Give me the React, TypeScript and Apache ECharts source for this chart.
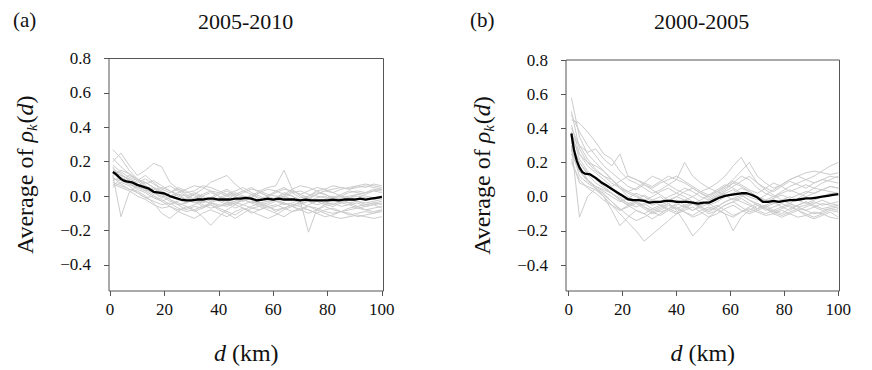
import React, { useEffect, useRef } from "react";
import * as echarts from "echarts";

const FONT = "Liberation Serif";

// distance (km) sampled for the individual (grey) curves
const D = [1, 4, 7, 10, 13, 16, 19, 22, 25, 28, 31, 34, 37, 40, 43, 46, 49, 52, 55, 58, 61, 64, 67, 70, 73, 76, 79, 82, 85, 88, 91, 94, 97, 100];
// distance (km) sampled for the average (black) curve
const MEAN_D = [1, 2, 3, 4, 5, 6, 8, 10, 12, 14, 16, 18, 20, 22, 24, 26, 28, 30, 32, 34, 36, 38, 40, 42, 44, 46, 48, 50, 52, 54, 56, 58, 60, 62, 64, 66, 68, 70, 72, 74, 76, 78, 80, 82, 84, 86, 88, 90, 92, 94, 96, 98, 100];

const X_TICKS = [0, 20, 40, 60, 80, 100];
const Y_TICKS = [-0.4, -0.2, 0, 0.2, 0.4, 0.6, 0.8];

// Panel (a) 2005-2010
const A1 = [0.27, 0.22, 0.15, 0.10, 0.08, 0.05, 0.02, 0.00, -0.02, -0.03, -0.01, 0.01, 0.03, 0.02, 0.00, -0.02, -0.03, -0.01, 0.02, 0.04, 0.03, 0.01, 0.00, -0.02, -0.01, 0.01, 0.03, 0.04, 0.05, 0.04, 0.05, 0.06, 0.05, 0.04];
const A2 = [0.12, -0.12, 0.02, 0.06, 0.08, 0.05, 0.03, -0.02, -0.05, -0.08, -0.06, -0.07, -0.04, -0.05, -0.06, -0.04, -0.05, -0.07, -0.08, -0.06, -0.05, -0.07, -0.09, -0.08, -0.06, -0.07, -0.09, -0.10, -0.09, -0.08, -0.07, -0.08, -0.09, -0.08];
const A3 = [0.20, 0.25, 0.18, 0.12, 0.15, 0.19, 0.17, 0.08, 0.04, 0.02, 0.03, 0.06, 0.05, 0.03, 0.01, 0.00, 0.02, 0.04, 0.03, 0.01, 0.00, -0.01, 0.02, 0.03, 0.01, 0.00, -0.01, -0.02, -0.01, 0.00, 0.01, 0.00, -0.01, 0.00];
const A4 = [0.08, 0.06, 0.04, 0.03, 0.00, -0.04, -0.10, -0.13, -0.09, -0.06, -0.08, -0.12, -0.17, -0.12, -0.08, -0.05, -0.07, -0.10, -0.08, -0.06, -0.09, -0.07, -0.05, -0.06, -0.08, -0.10, -0.08, -0.07, -0.09, -0.11, -0.10, -0.09, -0.10, -0.08];
const A5 = [0.15, 0.12, 0.10, 0.07, 0.04, 0.02, 0.00, -0.03, -0.05, -0.04, -0.02, -0.05, -0.07, -0.06, -0.04, -0.03, 0.00, -0.02, -0.04, -0.03, -0.01, 0.02, 0.00, -0.03, -0.21, -0.08, -0.05, -0.04, -0.06, -0.05, -0.04, -0.06, -0.05, -0.04];
const A6 = [0.10, 0.09, 0.12, 0.10, 0.06, 0.04, 0.05, 0.03, 0.00, -0.02, 0.01, 0.04, 0.08, 0.10, 0.12, 0.07, 0.03, 0.01, -0.02, 0.00, 0.03, 0.05, 0.02, -0.01, 0.00, 0.02, 0.01, -0.01, 0.00, 0.02, 0.03, 0.02, 0.04, 0.03];
const A7 = [0.05, 0.08, 0.06, 0.02, -0.01, -0.03, -0.05, -0.04, -0.07, -0.09, -0.08, -0.06, -0.05, -0.07, -0.09, -0.11, -0.08, -0.06, -0.04, -0.06, -0.08, -0.07, -0.05, -0.04, -0.06, -0.08, -0.10, -0.12, -0.13, -0.12, -0.11, -0.12, -0.13, -0.12];
const A8 = [0.18, 0.14, 0.11, 0.09, 0.12, 0.08, 0.04, 0.02, 0.05, 0.03, 0.00, -0.02, -0.01, 0.02, 0.04, 0.01, -0.01, 0.00, 0.03, 0.05, 0.06, 0.15, 0.04, 0.00, -0.02, 0.01, 0.03, 0.02, 0.00, -0.01, 0.01, 0.02, 0.03, 0.02];
const A9 = [0.13, 0.10, 0.07, 0.05, 0.03, 0.00, -0.03, -0.06, -0.08, -0.07, -0.05, -0.03, -0.04, -0.06, -0.05, -0.03, -0.02, -0.04, -0.06, -0.05, -0.03, -0.04, -0.06, -0.05, -0.03, -0.02, -0.04, -0.05, -0.03, -0.04, -0.06, -0.05, -0.04, -0.03];
const A10 = [0.22, 0.17, 0.13, 0.10, 0.07, 0.09, 0.06, 0.03, 0.01, 0.00, 0.02, 0.00, -0.03, -0.01, 0.01, 0.03, 0.05, 0.02, 0.00, -0.02, -0.01, 0.01, 0.04, 0.06, 0.05, 0.03, 0.04, 0.06, 0.05, 0.04, 0.06, 0.07, 0.06, 0.05];
const A11 = [0.09, 0.11, 0.08, 0.05, 0.06, 0.03, 0.01, -0.02, -0.04, -0.06, -0.09, -0.07, -0.05, -0.08, -0.10, -0.13, -0.10, -0.07, -0.06, -0.08, -0.10, -0.12, -0.09, -0.07, -0.08, -0.10, -0.12, -0.11, -0.09, -0.10, -0.12, -0.11, -0.10, -0.09];
const A12 = [0.16, 0.13, 0.09, 0.06, 0.03, 0.04, 0.02, 0.00, 0.02, 0.04, 0.06, 0.05, 0.03, 0.00, -0.03, -0.05, -0.02, 0.01, -0.01, -0.03, -0.02, 0.00, -0.02, -0.04, -0.03, -0.01, 0.00, -0.02, -0.03, -0.01, 0.00, -0.01, -0.02, -0.01];
const A13 = [0.07, 0.05, 0.03, 0.00, -0.02, -0.05, -0.07, -0.06, -0.09, -0.11, -0.13, -0.10, -0.08, -0.10, -0.12, -0.09, -0.07, -0.09, -0.11, -0.13, -0.11, -0.08, -0.06, -0.08, -0.10, -0.08, -0.06, -0.08, -0.09, -0.07, -0.06, -0.08, -0.07, -0.06];
const A14 = [0.12, 0.15, 0.13, 0.09, 0.05, 0.02, -0.01, 0.02, 0.04, 0.01, -0.02, -0.04, -0.02, 0.01, 0.03, 0.00, -0.03, -0.01, 0.02, 0.00, -0.02, -0.04, -0.06, -0.03, 0.00, 0.03, 0.01, -0.01, 0.01, 0.03, 0.02, 0.01, 0.03, 0.04];
const A15 = [0.11, 0.07, 0.04, 0.02, -0.01, 0.00, -0.02, -0.05, -0.03, -0.01, 0.01, -0.01, -0.03, -0.02, 0.00, 0.02, 0.00, -0.02, -0.05, -0.04, -0.02, 0.00, 0.03, 0.01, -0.01, -0.03, -0.02, 0.00, -0.02, -0.04, -0.03, -0.05, -0.04, -0.05];
const A16 = [0.14, 0.12, 0.10, 0.08, 0.10, 0.07, 0.04, 0.06, 0.03, 0.00, -0.03, -0.06, -0.04, -0.02, -0.04, -0.07, -0.05, -0.03, -0.05, -0.07, -0.06, -0.04, -0.06, -0.08, -0.05, -0.03, -0.05, -0.06, -0.04, -0.05, -0.07, -0.06, -0.05, -0.07];
const A17 = [0.17, 0.09, 0.07, 0.04, 0.02, -0.01, -0.03, -0.01, 0.01, -0.02, -0.04, -0.03, -0.01, -0.03, -0.05, -0.04, -0.02, -0.04, -0.03, -0.01, -0.03, -0.05, -0.04, -0.02, -0.03, -0.05, -0.04, -0.03, -0.04, -0.02, -0.03, -0.04, -0.03, -0.02];
const A18 = [0.06, 0.10, 0.09, 0.07, 0.04, 0.01, 0.03, 0.00, -0.02, -0.04, -0.02, 0.00, 0.02, 0.00, -0.02, 0.01, 0.03, 0.05, 0.02, 0.00, 0.02, 0.04, 0.03, 0.01, 0.03, 0.05, 0.04, 0.02, 0.04, 0.05, 0.06, 0.05, 0.07, 0.06];
const MEAN_A = [0.14, 0.13, 0.115, 0.10, 0.09, 0.085, 0.08, 0.065, 0.055, 0.045, 0.025, 0.02, 0.015, 0.00, -0.01, -0.02, -0.025, -0.025, -0.02, -0.02, -0.015, -0.015, -0.02, -0.02, -0.02, -0.015, -0.015, -0.01, -0.015, -0.025, -0.02, -0.015, -0.02, -0.015, -0.02, -0.02, -0.02, -0.025, -0.02, -0.025, -0.025, -0.025, -0.025, -0.02, -0.025, -0.02, -0.02, -0.02, -0.015, -0.02, -0.015, -0.01, -0.005];

// Panel (b) 2000-2005
const B1 = [0.58, 0.35, 0.25, 0.20, 0.15, 0.10, 0.05, 0.02, 0.00, -0.02, -0.05, -0.03, 0.00, 0.02, 0.05, 0.03, 0.00, -0.02, 0.01, 0.04, 0.08, 0.12, 0.10, 0.05, 0.02, 0.00, 0.03, 0.06, 0.08, 0.10, 0.12, 0.15, 0.18, 0.20];
const B2 = [0.30, -0.12, 0.00, 0.05, 0.02, -0.03, -0.08, -0.06, -0.04, -0.07, -0.10, -0.08, -0.05, -0.07, -0.09, -0.11, -0.08, -0.06, -0.08, -0.10, -0.12, -0.09, -0.07, -0.09, -0.11, -0.10, -0.08, -0.10, -0.12, -0.11, -0.09, -0.10, -0.12, -0.13];
const B3 = [0.45, 0.43, 0.38, 0.32, 0.25, 0.22, 0.15, 0.10, 0.08, 0.05, 0.02, 0.04, 0.07, 0.10, 0.08, 0.05, 0.02, 0.00, 0.03, 0.06, 0.10, 0.15, 0.20, 0.12, 0.08, 0.05, 0.07, 0.10, 0.12, 0.10, 0.08, 0.10, 0.12, 0.11];
const B4 = [0.25, 0.15, 0.10, 0.05, 0.00, -0.05, -0.10, -0.15, -0.20, -0.26, -0.22, -0.18, -0.14, -0.10, -0.08, -0.06, -0.09, -0.12, -0.10, -0.07, -0.05, -0.08, -0.10, -0.08, -0.06, -0.09, -0.11, -0.09, -0.07, -0.08, -0.10, -0.09, -0.07, -0.08];
const B5 = [0.35, 0.25, 0.20, 0.18, 0.15, 0.10, 0.05, 0.00, -0.03, -0.05, -0.02, 0.00, -0.04, -0.08, -0.15, -0.23, -0.18, -0.12, -0.08, -0.05, -0.03, -0.06, -0.09, -0.07, -0.05, -0.03, -0.06, -0.08, -0.05, -0.03, -0.05, -0.07, -0.06, -0.05];
const B6 = [0.40, 0.30, 0.26, 0.28, 0.22, 0.18, 0.25, 0.12, 0.10, 0.08, 0.06, 0.09, 0.12, 0.10, 0.20, 0.12, 0.08, 0.05, 0.03, 0.06, 0.09, 0.07, 0.04, 0.02, 0.05, 0.08, 0.06, 0.03, 0.05, 0.07, 0.05, 0.04, 0.06, 0.05];
const B7 = [0.20, 0.10, 0.05, 0.02, -0.02, -0.05, -0.08, -0.05, -0.03, -0.06, -0.09, -0.07, -0.04, -0.02, -0.05, -0.08, -0.06, -0.04, -0.07, -0.10, -0.20, -0.12, -0.08, -0.05, -0.07, -0.09, -0.07, -0.05, -0.08, -0.10, -0.12, -0.10, -0.08, -0.09];
const B8 = [0.50, 0.28, 0.20, 0.15, 0.12, 0.08, 0.05, 0.03, 0.05, 0.08, 0.12, 0.10, 0.07, 0.04, 0.02, 0.00, 0.03, 0.05, 0.08, 0.12, 0.18, 0.23, 0.15, 0.08, 0.05, 0.03, 0.06, 0.09, 0.07, 0.05, 0.08, 0.10, 0.09, 0.08];
const B9 = [0.30, 0.20, 0.14, 0.10, 0.06, 0.02, -0.02, -0.05, -0.08, -0.10, -0.07, -0.05, -0.08, -0.10, -0.07, -0.04, -0.06, -0.09, -0.06, -0.03, -0.01, -0.03, -0.05, -0.08, -0.10, -0.08, -0.06, -0.04, -0.06, -0.05, -0.03, -0.05, -0.04, -0.03];
const B10 = [0.38, 0.22, 0.15, 0.10, 0.08, 0.05, 0.00, -0.04, -0.02, 0.01, -0.02, -0.05, -0.03, 0.00, -0.02, -0.04, -0.02, 0.01, 0.03, 0.01, -0.02, 0.00, 0.03, 0.00, -0.03, -0.01, 0.01, -0.01, 0.01, 0.03, 0.02, 0.04, 0.06, 0.05];
const B11 = [0.28, 0.12, 0.08, 0.05, 0.01, -0.03, -0.07, -0.11, -0.14, -0.12, -0.09, -0.11, -0.08, -0.06, -0.09, -0.12, -0.10, -0.07, -0.05, -0.08, -0.11, -0.09, -0.06, -0.04, -0.07, -0.10, -0.12, -0.10, -0.08, -0.11, -0.13, -0.11, -0.09, -0.12];
const B12 = [0.42, 0.25, 0.18, 0.14, 0.10, 0.06, 0.09, 0.12, 0.10, 0.07, 0.05, 0.08, 0.10, 0.12, 0.09, 0.06, 0.03, 0.01, 0.04, 0.07, 0.05, 0.02, 0.00, -0.02, 0.01, 0.04, 0.07, 0.10, 0.12, 0.14, 0.15, 0.14, 0.13, 0.14];
const B13 = [0.33, 0.15, 0.09, 0.06, 0.03, 0.00, -0.03, -0.01, 0.02, 0.00, -0.03, -0.05, -0.07, -0.05, -0.02, 0.00, -0.03, -0.05, -0.03, 0.00, 0.02, 0.05, 0.03, 0.00, -0.02, -0.04, -0.02, 0.00, -0.02, -0.04, -0.02, 0.00, 0.02, 0.01];
const B14 = [0.22, 0.08, 0.06, 0.04, 0.00, -0.08, -0.17, -0.12, -0.08, -0.10, -0.13, -0.10, -0.07, -0.09, -0.06, -0.04, -0.07, -0.10, -0.08, -0.05, -0.03, -0.01, -0.04, -0.07, -0.05, -0.08, -0.10, -0.07, -0.05, -0.03, -0.06, -0.08, -0.07, -0.06];
const B15 = [0.36, 0.30, 0.22, 0.16, 0.12, 0.10, 0.06, 0.03, 0.01, -0.02, 0.00, 0.03, 0.05, 0.02, 0.00, -0.03, -0.05, -0.03, 0.00, 0.03, 0.06, 0.09, 0.12, 0.08, 0.04, 0.01, -0.02, -0.04, -0.01, 0.02, 0.05, 0.08, 0.10, 0.12];
const B16 = [0.27, 0.18, 0.10, 0.06, 0.04, 0.02, -0.01, -0.04, -0.06, -0.04, -0.07, -0.09, -0.07, -0.04, -0.06, -0.08, -0.05, -0.02, 0.00, 0.02, 0.04, 0.01, -0.02, -0.05, -0.08, -0.06, -0.04, -0.06, -0.08, -0.06, -0.04, -0.02, -0.04, -0.05];
const B17 = [0.48, 0.38, 0.30, 0.24, 0.18, 0.14, 0.10, 0.06, 0.04, 0.07, 0.04, 0.01, -0.02, 0.00, 0.03, 0.05, 0.02, -0.01, 0.02, 0.05, 0.08, 0.06, 0.03, 0.00, -0.02, 0.00, 0.02, 0.04, 0.02, 0.00, 0.02, 0.04, 0.03, 0.02];
const B18 = [0.32, 0.20, 0.13, 0.08, 0.05, 0.02, -0.02, -0.05, -0.03, -0.06, -0.08, -0.06, -0.04, -0.07, -0.05, -0.03, -0.06, -0.08, -0.06, -0.03, -0.01, 0.01, -0.02, -0.04, -0.06, -0.04, -0.02, -0.04, -0.06, -0.08, -0.06, -0.04, -0.05, -0.07];
const MEAN_B = [0.37, 0.27, 0.21, 0.17, 0.145, 0.135, 0.13, 0.11, 0.085, 0.065, 0.045, 0.025, 0.005, -0.015, -0.02, -0.02, -0.025, -0.035, -0.03, -0.03, -0.025, -0.025, -0.03, -0.03, -0.03, -0.035, -0.04, -0.035, -0.035, -0.02, -0.005, 0.005, 0.01, 0.015, 0.02, 0.02, 0.01, -0.005, -0.03, -0.03, -0.025, -0.03, -0.025, -0.02, -0.02, -0.015, -0.01, -0.01, -0.005, 0.0, 0.005, 0.01, 0.015];

const GREY_A = [A1, A2, A3, A4, A5, A6, A7, A8, A9, A10, A11, A12, A13, A14, A15, A16, A17, A18];
const GREY_B = [B1, B2, B3, B4, B5, B6, B7, B8, B9, B10, B11, B12, B13, B14, B15, B16, B17, B18];

const PANEL_LABELS = ["(a)", "(b)"];
const PANEL_TITLES = ["2005-2010", "2000-2005"];
const X_NAME = "{i|d}{n| (km)}";
const Y_NAME = "{n|Average of }{i|\u03c1}{s|k}{n|(}{i|d}{n|)}";

const pairs = (xs: number[], ys: number[]) => {
  const n = Math.min(xs.length, ys.length);
  const out: any[] = [];
  for (let i = 0; i < n; i++) out.push([xs[i], ys[i]]);
  return out;
};

// all grey curves of a panel in one line series, separated by empty items
const bundle = (set: number[][]) => {
  const out: any[] = [];
  set.forEach((ys, k) => {
    if (k > 0) out.push("-");
    pairs(D, ys).forEach((p) => out.push(p));
  });
  return out;
};

const fmtY = (v: number) => {
  const r = Math.round(v * 10) / 10;
  const s = r < 0 ? "\u2212" + Math.abs(r).toFixed(1) : r.toFixed(1);
  return "{t|" + s + "}";
};
const fmtX = (v: number) => "{t|" + String(Math.round(v)) + "}";

export default function App() {
  const ref = useRef<HTMLDivElement>(null);
  useEffect(() => {
    if (!ref.current) return;
    const chart = echarts.init(ref.current, undefined, { renderer: "svg" });

    const grids = [
      { left: 109, top: 58.5, width: 274.5, height: 235, xmin: -0.4, xmax: 100.6, cx: 246, lx: 13 },
      { left: 566, top: 60, width: 273.5, height: 234, xmin: -1.0, xmax: 100.45, cx: 702, lx: 470 },
    ];

    const nameRich = {
      n: { fontSize: 24, fontFamily: FONT, color: "#111" },
      i: { fontStyle: "italic", fontSize: 24, fontFamily: FONT, color: "#111" },
      s: { fontStyle: "italic", fontSize: 15, fontFamily: FONT, color: "#111", padding: [14, 1, 0, 0] },
    };
    const tickRich = { t: { fontSize: 17, fontFamily: FONT, color: "#111" } };

    const mkX = (gi: number) => ({
      type: "value",
      gridIndex: gi,
      min: grids[gi].xmin,
      max: grids[gi].xmax,
      name: X_NAME,
      nameLocation: "middle",
      nameGap: 50,
      nameTextStyle: { fontFamily: FONT, fontSize: 24, color: "#111", rich: nameRich },
      axisLine: { show: false, onZero: false },
      axisTick: { show: true, length: 5, lineStyle: { color: "#555", width: 1 }, customValues: X_TICKS },
      axisLabel: { customValues: X_TICKS, margin: 10, color: "#111", fontSize: 17, fontFamily: FONT, formatter: fmtX, rich: tickRich },
      splitLine: { show: false },
    });
    const mkY = (gi: number) => ({
      type: "value",
      gridIndex: gi,
      min: -0.552,
      max: 0.8,
      name: Y_NAME,
      nameLocation: "middle",
      nameRotate: 90,
      nameGap: 70,
      nameTextStyle: { fontFamily: FONT, fontSize: 24, color: "#111", rich: nameRich },
      axisLine: { show: false, onZero: false },
      axisTick: { show: true, length: 5, lineStyle: { color: "#555", width: 1 }, customValues: Y_TICKS },
      axisLabel: { customValues: Y_TICKS, margin: 18, color: "#111", fontSize: 17, fontFamily: FONT, formatter: fmtY, rich: tickRich },
      splitLine: { show: false },
    });

    const series: any[] = [];
    [GREY_A, GREY_B].forEach((set, gi) => {
      series.push({
        type: "line",
        name: `individual-${gi}`,
        xAxisIndex: gi,
        yAxisIndex: gi,
        data: bundle(set),
        connectNulls: false,
        showSymbol: false,
        symbol: "none",
        silent: true,
        z: 2,
        lineStyle: { color: "#cbcbcb", width: 1 },
      });
    });
    [MEAN_A, MEAN_B].forEach((ys, gi) => {
      series.push({
        type: "line",
        name: `mean-${gi}`,
        xAxisIndex: gi,
        yAxisIndex: gi,
        data: pairs(MEAN_D, ys),
        showSymbol: false,
        symbol: "none",
        silent: true,
        z: 3,
        lineStyle: { color: "#000", width: 2.3 },
      });
    });

    const titles: any[] = [];
    grids.forEach((g, gi) => {
      titles.push({
        text: PANEL_LABELS[gi],
        left: g.lx,
        top: 9,
        padding: 0,
        textStyle: { fontFamily: FONT, fontSize: 21, fontWeight: "normal", color: "#111" },
      });
      titles.push({
        text: PANEL_TITLES[gi],
        left: g.cx - 48,
        top: 10,
        padding: 0,
        textStyle: { fontFamily: FONT, fontSize: 22, fontWeight: "normal", color: "#111" },
      });
    });

    chart.setOption({
      animation: false,
      backgroundColor: "#fff",
      textStyle: { fontFamily: FONT },
      title: titles,
      grid: grids.map((g) => ({
        left: g.left,
        top: g.top,
        width: g.width,
        height: g.height,
        show: true,
        borderColor: "#555",
        borderWidth: 1,
        backgroundColor: "transparent",
        containLabel: false,
      })),
      xAxis: [mkX(0), mkX(1)],
      yAxis: [mkY(0), mkY(1)],
      series,
    });

    return () => chart.dispose();
  }, []);

  return <div ref={ref} style={{ position: "fixed", left: 0, top: 0, width: 872, height: 370, background: "#fff", fontFamily: FONT }} />;
}
